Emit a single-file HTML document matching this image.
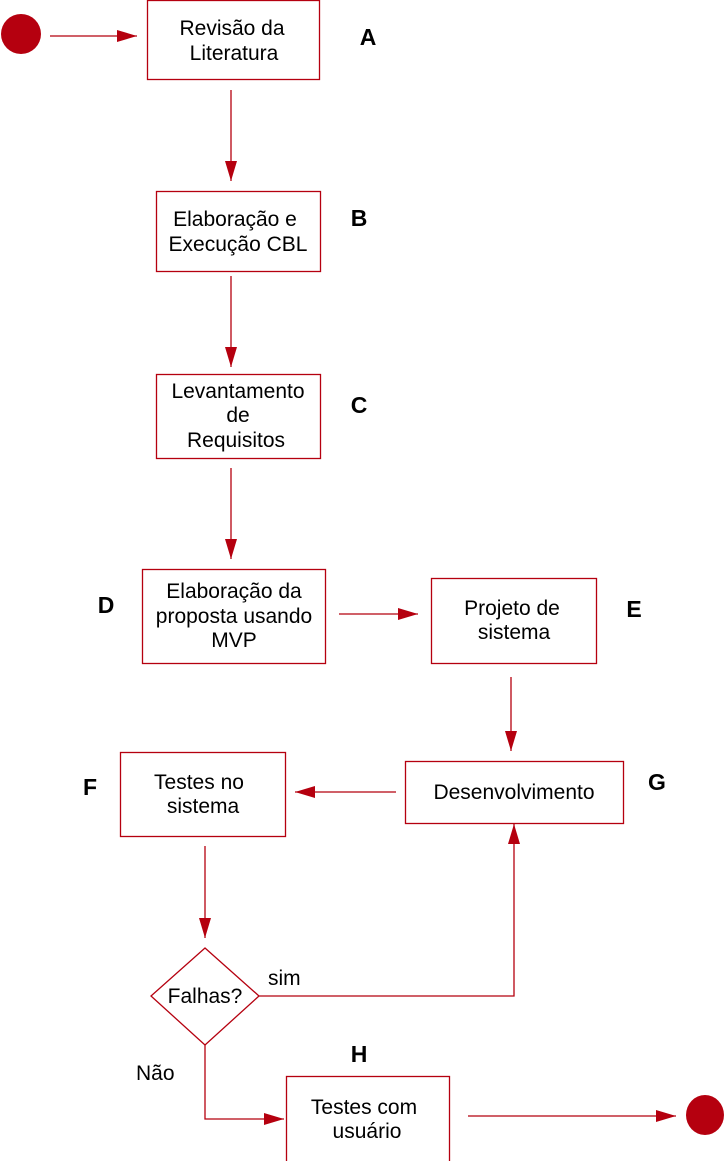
<!DOCTYPE html>
<html><head><meta charset="utf-8"><style>
html,body{margin:0;padding:0;background:#fff;}
svg{display:block;}
text{font-family:"Liberation Sans",sans-serif;font-size:21px;fill:#000;}
.t{text-anchor:middle;}
.l{font-size:23px;font-weight:bold;text-anchor:middle;}
</style></head><body>
<svg width="725" height="1161" viewBox="0 0 725 1161" xmlns="http://www.w3.org/2000/svg">
<defs>
<marker id="ar" markerUnits="userSpaceOnUse" markerWidth="22" markerHeight="14" refX="20" refY="6" orient="auto">
<path d="M0,0 L20,6 L0,12 z" fill="#b5000f"/>
</marker>
</defs>
<g fill="none" stroke="#b5000f" stroke-width="1.3">
<rect x="147.5" y="0.5" width="172" height="79"/>
<rect x="156.5" y="191.5" width="164" height="80"/>
<rect x="156.5" y="374.5" width="164" height="84"/>
<rect x="142.5" y="569.5" width="183" height="94"/>
<rect x="431.5" y="578.5" width="165" height="85"/>
<rect x="405.5" y="761.5" width="218" height="62"/>
<rect x="120.5" y="752.5" width="165" height="84"/>
<path d="M205,948 L259,996 L205,1045 L151,996 Z"/>
<rect x="286.5" y="1076.5" width="163" height="90"/>
<line x1="50" y1="36" x2="137" y2="36" marker-end="url(#ar)"/>
<line x1="231" y1="90" x2="231" y2="181" marker-end="url(#ar)"/>
<line x1="231" y1="276" x2="231" y2="367" marker-end="url(#ar)"/>
<line x1="231" y1="468" x2="231" y2="559" marker-end="url(#ar)"/>
<line x1="339" y1="614" x2="418" y2="614" marker-end="url(#ar)"/>
<line x1="511" y1="677" x2="511" y2="751" marker-end="url(#ar)"/>
<line x1="396" y1="792" x2="295" y2="792" marker-end="url(#ar)"/>
<line x1="205" y1="846" x2="205" y2="938" marker-end="url(#ar)"/>
<polyline points="259,996 514,996 514,824" marker-end="url(#ar)"/>
<polyline points="205,1045 205,1119 284,1119" marker-end="url(#ar)"/>
<line x1="468" y1="1116" x2="676" y2="1116" marker-end="url(#ar)"/>
</g>
<circle cx="21" cy="34" r="20" fill="#b5000f"/>
<ellipse cx="705" cy="1115" rx="19" ry="20" fill="#b5000f"/>
<text class="t" x="232" y="35">Revisão da</text>
<text class="t" x="234" y="60">Literatura</text>
<text class="t" x="235" y="226">Elaboração e</text>
<text class="t" x="238" y="251">Execução CBL</text>
<text class="t" x="238" y="398">Levantamento</text>
<text class="t" x="238" y="422">de</text>
<text class="t" x="236" y="447">Requisitos</text>
<text class="t" x="234" y="598">Elaboração da</text>
<text class="t" x="234" y="623">proposta usando</text>
<text class="t" x="234" y="647">MVP</text>
<text class="t" x="512" y="615">Projeto de</text>
<text class="t" x="514" y="639">sistema</text>
<text class="t" x="514" y="799">Desenvolvimento</text>
<text class="t" x="199" y="789">Testes no</text>
<text class="t" x="203" y="813">sistema</text>
<text class="t" x="205" y="1003">Falhas?</text>
<text class="t" x="364" y="1114">Testes com</text>
<text class="t" x="367" y="1138">usuário</text>
<text x="268" y="985">sim</text>
<text x="136" y="1080">Não</text>
<text class="l" x="368" y="45">A</text>
<text class="l" x="359" y="226">B</text>
<text class="l" x="359" y="413">C</text>
<text class="l" x="106" y="613">D</text>
<text class="l" x="634" y="617">E</text>
<text class="l" x="657" y="790">G</text>
<text class="l" x="90" y="795">F</text>
<text class="l" x="359" y="1062">H</text>
</svg>
</body></html>
